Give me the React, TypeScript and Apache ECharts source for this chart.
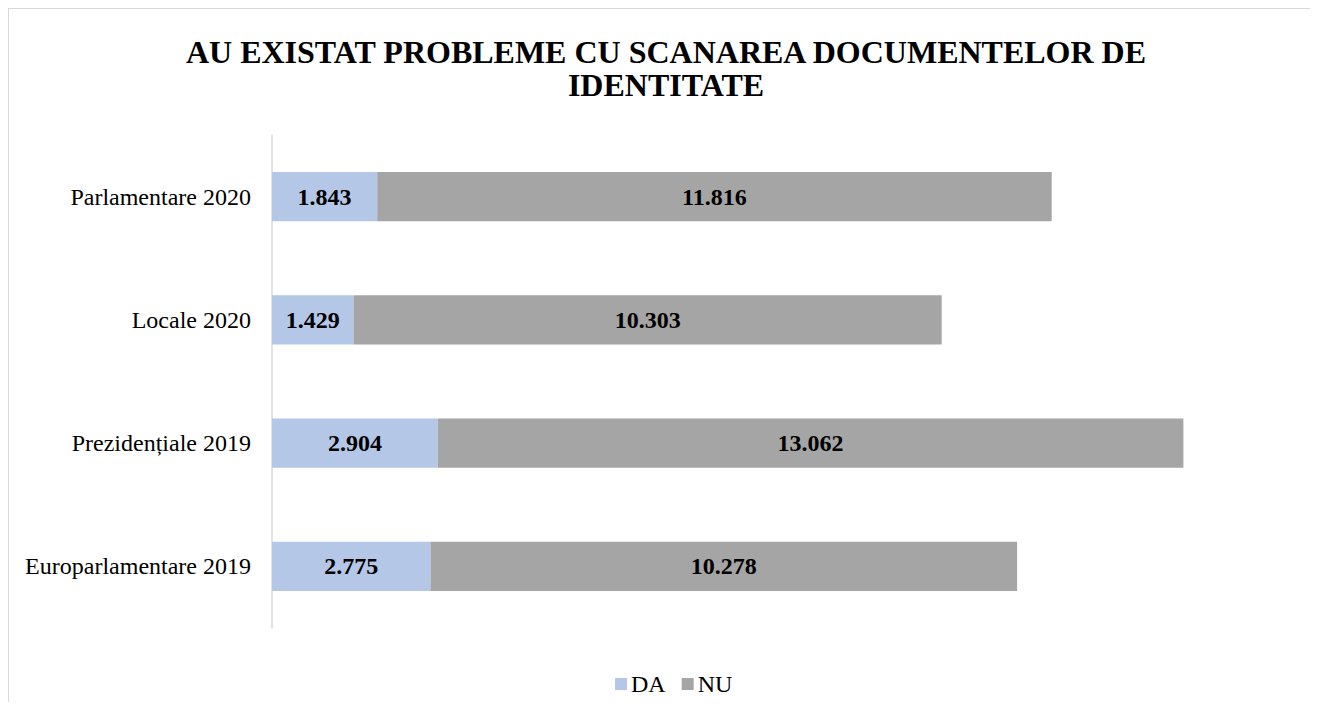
import React, { useEffect, useRef } from "react";
import * as echarts from "echarts";

const titleText = "AU EXISTAT PROBLEME CU SCANAREA DOCUMENTELOR DE\nIDENTITATE";
const categories = ["Parlamentare 2020", "Locale 2020", "Prezidențiale 2019", "Europarlamentare 2019"];
const daValues = [1843, 1429, 2904, 2775];
const nuValues = [11816, 10303, 13062, 10278];
const seriesNames = ["DA", "NU"];
const colors = ["#B4C7E7", "#A5A5A5"];

const fmt = (v: number) => String(v).replace(/\B(?=(\d{3})+(?!\d))/g, ".");

export default function App() {
  const ref = useRef<HTMLDivElement>(null);
  useEffect(() => {
    if (!ref.current) return;
    const chart = echarts.init(ref.current, undefined, { renderer: "svg" });
    const font = "'Liberation Serif', 'Times New Roman', serif";
    const labelStyle = {
      show: true,
      position: "inside",
      color: "#000",
      fontFamily: font,
      fontWeight: "bold",
      fontSize: 24,
      formatter: (p: any) => fmt(p.value),
    };
    chart.setOption({
      animation: false,
      backgroundColor: "#fff",
      title: {
        text: titleText,
        left: 657,
        top: 26,
        padding: 0,
        textAlign: "center",
        textStyle: {
          fontFamily: font,
          fontWeight: "bold",
          fontSize: 32,
          lineHeight: 33,
          color: "#000",
        },
      },
      legend: {
        data: seriesNames,
        left: 601,
        top: 658,
        itemWidth: 12,
        itemHeight: 12,
        itemGap: 16,
        icon: "rect",
        textStyle: { fontFamily: font, fontSize: 24, lineHeight: 24, color: "#000", padding: [0, 0, 0, -1] },
      },
      grid: { left: 263, top: 126, height: 493, width: 1027.5, containLabel: false },
      xAxis: {
        type: "value",
        min: 0,
        max: 18000,
        show: false,
        splitLine: { show: false },
      },
      yAxis: {
        type: "category",
        data: categories,
        inverse: true,
        axisLine: { show: true, lineStyle: { color: "#D9D9D9", width: 1.5 } },
        axisTick: { show: false },
        axisLabel: { fontFamily: font, fontSize: 24, color: "#000", margin: 21 },
      },
      series: [
        {
          name: seriesNames[0],
          type: "bar",
          stack: "total",
          data: daValues,
          barCategoryGap: "60%",
          itemStyle: { color: colors[0] },
          label: labelStyle,
        },
        {
          name: seriesNames[1],
          type: "bar",
          stack: "total",
          data: nuValues,
          barCategoryGap: "60%",
          itemStyle: { color: colors[1] },
          label: labelStyle,
        },
      ],
    });
    return () => chart.dispose();
  }, []);
  return (
    <div
      ref={ref}
      style={{
        width: 1302,
        height: 694,
        boxSizing: "border-box",
        borderTop: "1px solid #D9D9D9",
        borderLeft: "1px solid #D9D9D9",
      }}
    />
  );
}
